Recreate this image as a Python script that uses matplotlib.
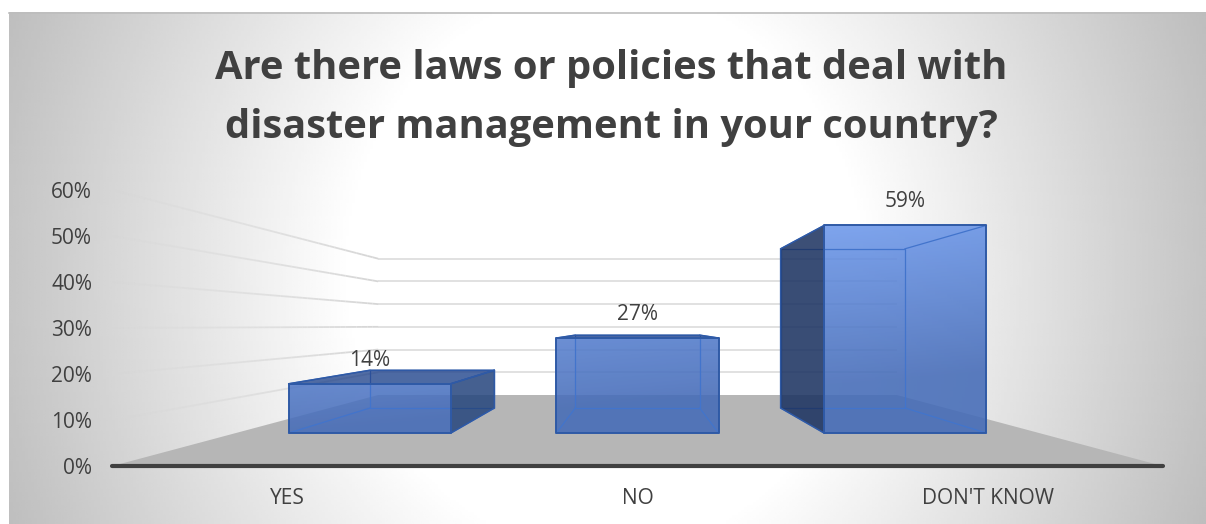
import numpy as np
import matplotlib
matplotlib.use("Agg")
import matplotlib.pyplot as plt
from matplotlib.collections import LineCollection
from matplotlib.patches import Polygon

categories = ["YES", "NO", "DON'T KNOW"]
values = [14, 27, 59]
axis_ticks = [0, 10, 20, 30, 40, 50, 60]
title = "Are there laws or policies that deal with\ndisaster management in your country?"

plt.rcParams["font.family"] = ["Open Sans", "DejaVu Sans"]

# perspective set-up, everything is in figure pixels
VP_X, VP_Y = 637.5, 325.7
GROUND_Y = 466.0
PX_PER_PCT = 4.6
CAT_STEP = 350.0
BAR_HALF = 106.0
S_BAR_FRONT, S_BAR_BACK = 0.765, 0.5866
S_WALL = 0.494
EYE_PCT = (GROUND_Y - VP_Y) / PX_PER_PCT


def project(wx, pct, s):
    return VP_X + wx * s, VP_Y + (GROUND_Y - VP_Y - pct * PX_PER_PCT) * s


fig = plt.figure(figsize=(12.06, 5.24), dpi=100)
ax = fig.add_axes([0, 0, 1, 1])
ax.axis("off")

# radial backdrop
xx, yy = np.meshgrid(np.linspace(9, 1206, 400), np.linspace(12, 524, 200))
r = np.sqrt(((xx - 605) / 640) ** 2 + ((yy - 270) / 700) ** 2)
shade = 255 - np.clip((r - 0.40) / 0.62, 0, 1) * (255 - 188)
ax.imshow(shade, cmap="gray", vmin=0, vmax=255, extent=(9, 1206, 524, 12),
          aspect="auto", zorder=0, interpolation="bilinear")
ax.plot([9, 1206], [12.5, 12.5], color="#bdbdbd", lw=1.2, zorder=1)

half_axis = 1.5 * CAT_STEP

# gridlines on the back wall and fading out along the side wall
for t in axis_ticks[1:]:
    x0, y0 = project(-half_axis, t, S_WALL)
    x1, y1 = project(half_axis, t, S_WALL)
    ax.plot([x0, x1], [y0, y1], color="#dedede", lw=1.3, zorder=1, solid_capstyle="butt")
    ss = np.linspace(1, S_WALL, 50)
    px, py = project(-half_axis, t, ss)
    pts = np.column_stack([px, py])
    segs = np.stack([pts[:-1], pts[1:]], axis=1)
    cols = [(0.84, 0.84, 0.84, a) for a in np.linspace(0.1, 1, 49)]
    ax.add_collection(LineCollection(segs, colors=cols, linewidths=1.3, zorder=1))

# floor
floor = [project(-half_axis, 0, 1), project(half_axis, 0, 1),
         project(half_axis, 0, S_WALL), project(-half_axis, 0, S_WALL)]
ax.add_patch(Polygon(floor, closed=True, fc="#b6b6b6", ec="none", zorder=2))
ax.plot([112, 1163], [GROUND_Y, GROUND_Y], color="#404040", lw=3, zorder=3,
        solid_capstyle="round")

# colour ramp for the front faces
gx, gy = np.meshgrid(np.linspace(0, 1, 120), np.linspace(0, 1, 120))
ramp = np.clip(gy * 1.0 + gx * 0.3, 0, 1)[..., None]
top_col = np.array([0.46, 0.64, 0.98])
bot_col = np.array([0.27, 0.42, 0.72])
front_img = top_col + (bot_col - top_col) * ramp

EDGE = "#2f5aa6"
INNER = "#4274cc"
DARK = "#1c3260"
LID = "#26488e"
SIDE = "#25457c"


def face(pts, color, alpha, z):
    ax.add_patch(Polygon(pts, closed=True, fc=color, alpha=alpha, ec="none", zorder=z))


def outline(pts, color, lw, z):
    ax.add_patch(Polygon(pts, closed=True, fc="none", ec=color, lw=lw, zorder=z,
                         joinstyle="round"))


for i, (name, v) in enumerate(zip(categories, values)):
    cx = (i - 1) * CAT_STEP
    xl, xr = cx - BAR_HALF, cx + BAR_HALF

    fbl = project(xl, 0, S_BAR_FRONT)
    fbr = project(xr, 0, S_BAR_FRONT)
    ftl = project(xl, v, S_BAR_FRONT)
    ftr = project(xr, v, S_BAR_FRONT)
    bbl = project(xl, 0, S_BAR_BACK)
    bbr = project(xr, 0, S_BAR_BACK)
    btl = project(xl, v, S_BAR_BACK)
    btr = project(xr, v, S_BAR_BACK)

    # back-facing sides are only a faint tint through the front
    face([bbl, bbr, btr, btl], "#4472c4", 0.10, 4)
    face([fbl, fbr, bbr, bbl], "#4472c4", 0.08, 4)
    if xr >= 0:
        face([fbr, bbr, btr, ftr], "#4472c4", 0.08, 4)

    im = ax.imshow(front_img, extent=(280, 1000, 433, 225), aspect="auto", alpha=0.87,
                   zorder=5, interpolation="bilinear")
    im.set_clip_path(Polygon([fbl, fbr, ftr, ftl], closed=True, transform=ax.transData))

    # inner edges show through
    outline([bbl, bbr, btr, btl], INNER, 0.9, 6)
    for a, b in [(fbl, bbl), (fbr, bbr), (ftl, btl), (ftr, btr)]:
        ax.plot([a[0], b[0]], [a[1], b[1]], color=INNER, lw=0.9, zorder=6)

    # faces that point at the viewer from outside the front rectangle
    if xl > 0:
        side = [fbl, bbl, btl, ftl]
        face(side, DARK, 0.86, 7)
        outline(side, EDGE, 1.1, 8)
    if xr < 0:
        side = [fbr, bbr, btr, ftr]
        face(side, SIDE, 0.84, 7)
        outline(side, EDGE, 1.1, 8)
    if v < EYE_PCT:
        lid = [ftl, ftr, btr, btl]
        face(lid, LID, 0.8, 7)
        outline(lid, EDGE, 1.1, 8)

    outline([fbl, fbr, ftr, ftl], EDGE, 1.4, 9)

    ax.text(project(cx, v, S_BAR_FRONT)[0], ftl[1] - 23.5, f"{v}%", ha="center", va="center",
            fontsize=15, color="#404040", zorder=10)
    ax.text(project(cx, 0, 1)[0], 499, name, ha="center", va="center",
            fontsize=15, color="#404040", zorder=10)

for t in axis_ticks:
    ax.text(92, project(-half_axis, t, 1)[1] + 2.5, f"{t}%", ha="right", va="center",
            fontsize=15, color="#404040", zorder=10)

ax.text(611, 98, title, ha="center", va="center", fontsize=28.7, fontweight="bold",
        color="#404040", linespacing=1.68, zorder=10)

ax.set_xlim(0, 1206)
ax.set_ylim(524, 0)
fig.savefig("out.png", dpi=100, facecolor="white")
